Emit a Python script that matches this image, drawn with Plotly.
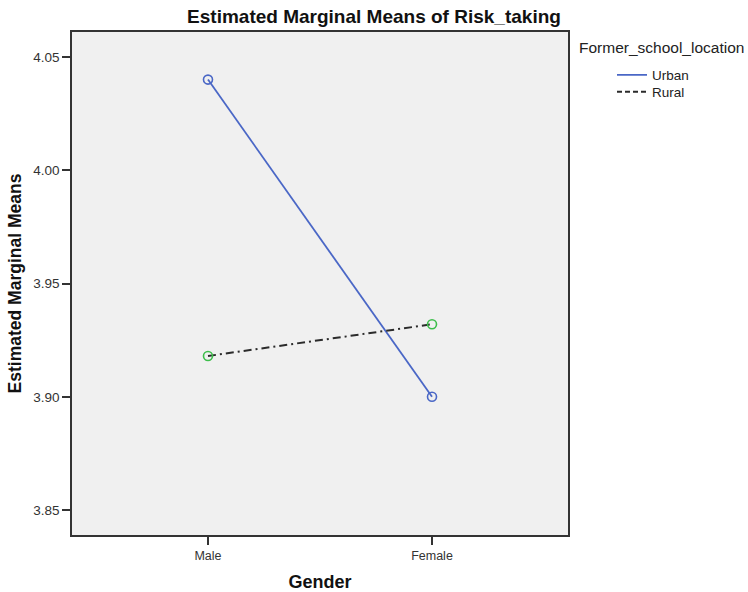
import plotly.graph_objects as go

genders = ["Male", "Female"]
urban = [4.040, 3.900]
rural = [3.918, 3.932]
y_ticks = [3.85, 3.90, 3.95, 4.00, 4.05]

FONT = "Liberation Sans, Arial, sans-serif"
BLUE = "#4A67C6"
GREEN = "#3DBE4B"
DARK = "#2b2b2b"

fig = go.Figure()
fig.add_trace(go.Scatter(
    x=genders, y=urban, mode="lines+markers", showlegend=False,
    line=dict(color=BLUE, width=1.8),
    marker=dict(symbol="circle-open", size=9, color=BLUE, line=dict(width=1.6)),
))
fig.add_trace(go.Scatter(
    x=genders, y=rural, mode="lines+markers", showlegend=False,
    line=dict(color=DARK, width=2, dash="8px,4px,2px,4px"),
    marker=dict(symbol="circle-open", size=9, color=GREEN, line=dict(width=1.6)),
))
# legend-only entries (line only)
fig.add_trace(go.Scatter(
    x=[None], y=[None], mode="lines", name="Urban", legend="legend",
    line=dict(color=BLUE, width=1.8),
))
fig.add_trace(go.Scatter(
    x=[None], y=[None], mode="lines", name="Rural", legend="legend2",
    line=dict(color=DARK, width=2, dash="5px,3px"),
))

legend_common = dict(
    x=(612 - 72) / 496, xanchor="left", xref="paper", yref="paper",
    yanchor="middle", bgcolor="rgba(0,0,0,0)", borderwidth=0,
    font=dict(size=13.5, color="#222", family=FONT), itemwidth=30,
)

fig.update_layout(
    width=748, height=592,
    margin=dict(l=72, r=180, t=32, b=57, autoexpand=False),
    paper_bgcolor="white",
    plot_bgcolor="#F0F0F0",
    font=dict(family=FONT, color="#222", size=13),
    title=dict(
        text="<b>Estimated Marginal Means of Risk_taking</b>",
        x=0.5, xref="container", xanchor="center",
        y=1 - 16 / 592, yref="container", yanchor="middle",
        font=dict(size=19, color="#111", family=FONT),
    ),
    xaxis=dict(
        type="category", range=[-0.607, 1.607], automargin=False,
        showline=True, linecolor="#333", linewidth=1.5, mirror=True,
        ticks="outside", ticklen=8, tickwidth=1.5, tickcolor="#333",
        ticklabelstandoff=0,
        showgrid=False, zeroline=False,
        tickfont=dict(size=12.5, color="#333"),
        title=dict(text="<b>Gender</b>", standoff=19,
                   font=dict(size=18, color="#111")),
    ),
    yaxis=dict(
        range=[3.839, 4.061], automargin=False,
        tickvals=y_ticks, tickformat=".2f",
        showline=True, linecolor="#333", linewidth=1.5, mirror=True,
        ticks="outside", ticklen=8, tickwidth=1.5, tickcolor="#333",
        showgrid=False, zeroline=False,
        tickfont=dict(size=13.5, color="#333"),
        title=dict(text="<b>Estimated Marginal Means</b>", standoff=7,
                   font=dict(size=17.5, color="#111")),
    ),
    legend=dict(y=(535 - 75) / 503, **legend_common),
    legend2=dict(y=(535 - 92) / 503, **legend_common),
    annotations=[dict(
        text="Former_school_location", xref="paper", yref="paper",
        x=(577 - 72) / 496, y=(535 - 47) / 503,
        xanchor="left", yanchor="middle", showarrow=False,
        font=dict(size=15.5, color="#222"),
    )],
)

fig.write_html("out.html")
